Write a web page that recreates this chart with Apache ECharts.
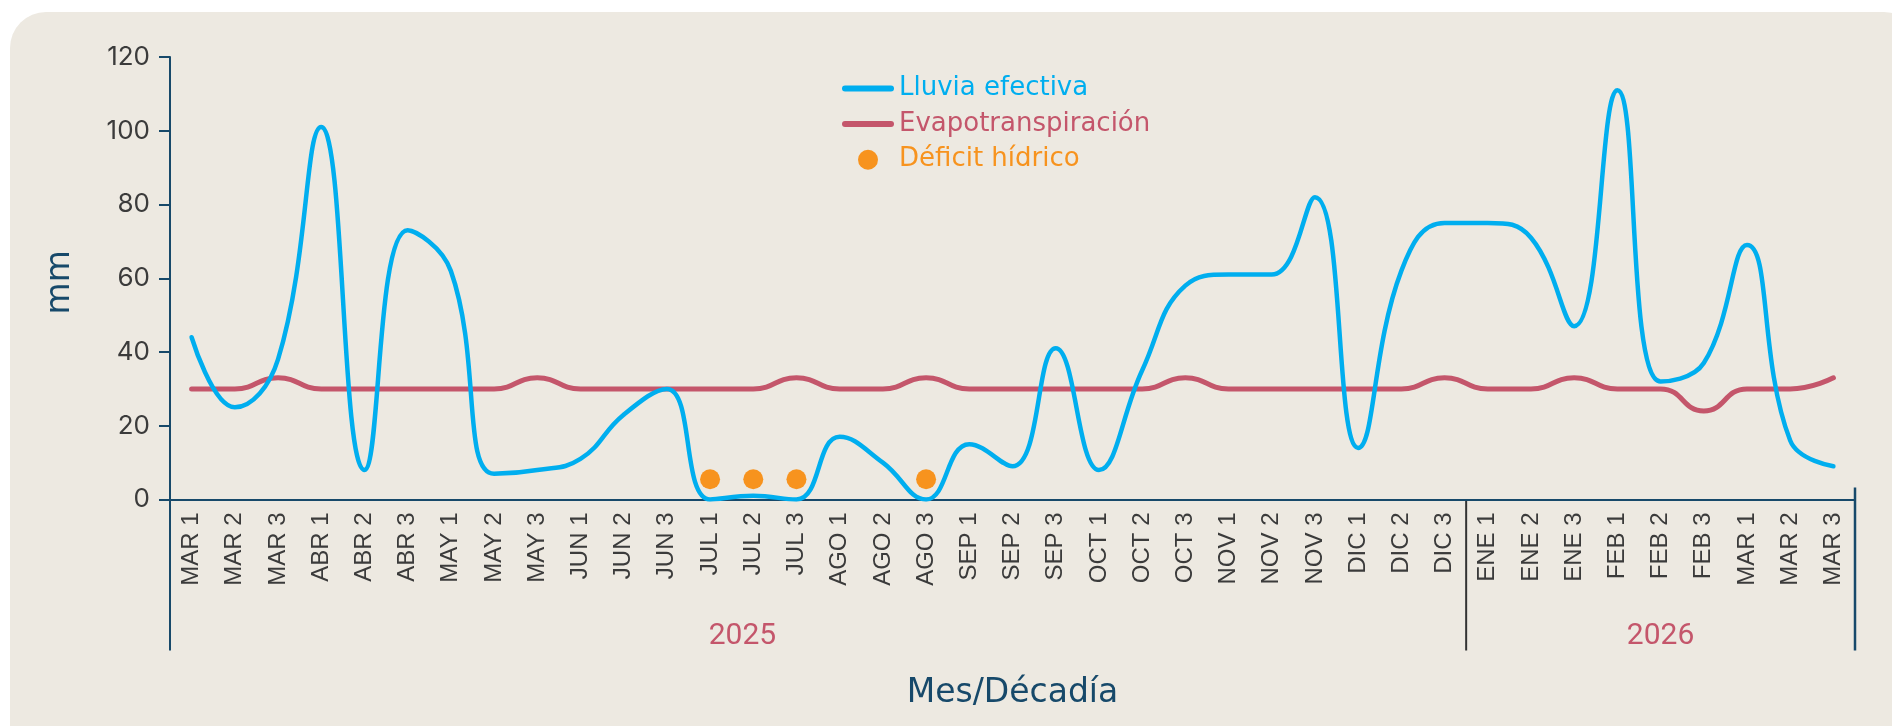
<!DOCTYPE html>
<html><head><meta charset="utf-8">
<script src="https://cdn.jsdelivr.net/npm/echarts@6/dist/echarts.min.js"></script>
<style>
html,body{margin:0;padding:0;background:#ffffff;width:1892px;height:726px;overflow:hidden;}
#panel{position:absolute;left:10px;top:12px;width:1910px;height:760px;background:#ede9e1;border-radius:36px;}
#chart{position:absolute;left:0;top:0;width:1892px;height:726px;}
</style></head>
<body><div id="panel"></div><div id="chart"></div>
<script>
const categories = ['MAR 1','MAR 2','MAR 3','ABR 1','ABR 2','ABR 3','MAY 1','MAY 2','MAY 3','JUN 1','JUN 2','JUN 3',
  'JUL 1','JUL 2','JUL 3','AGO 1','AGO 2','AGO 3','SEP 1','SEP 2','SEP 3','OCT 1','OCT 2','OCT 3',
  'NOV 1','NOV 2','NOV 3','DIC 1','DIC 2','DIC 3','ENE 1','ENE 2','ENE 3','FEB 1','FEB 2','FEB 3',
  'MAR 1','MAR 2','MAR 3'];
const lluviaEfectiva = [44,25,38,101,8,73,62,7,8,11,23,30,0,1,0,17,10,0,15,9,41,8,35,58,61,61,82,14,62,75,75,71,47,111,32,37,69,16,9];
const evapotranspiracion = [30,30,33,30,30,30,30,30,33,30,30,30,30,30,33,30,30,33,30,30,30,30,30,33,30,30,30,30,30,33,30,30,33,30,30,24,30,30,33];
const deficitHidrico = ['-','-','-','-','-','-','-','-','-','-','-','-',5.5,5.5,5.5,'-','-',5.5,'-','-','-','-','-','-','-','-','-','-','-','-','-','-','-','-','-','-','-','-','-'];
const yearGroups = ['2025','2026'];
const yearGroupSizes = [30, 9];
const yTicks = {min:0, max:120, interval:20};

const AXIS = '#17496a';
const BLUE = '#00aeef';
const ROSE = '#c4566b';
const ORANGE = '#f7931e';
const TXT = '#3b3b3b';
const SANS = '"DejaVu Sans", Inter, sans-serif';
const LINE_ICON = 'path://M3,0 L49,0 A3,3 0 0 1 49,6 L3,6 A3,3 0 0 1 3,0 Z';

const chart = echarts.init(document.getElementById('chart'), null, {renderer:'canvas'});
chart.setOption({
  backgroundColor: 'transparent',
  animation: false,
  grid: {left:170, right:37, top:57, bottom:226.5, containLabel:false},
  legend: {
    orient:'vertical', left:837, top:70.5, itemWidth:52, itemHeight:20, itemGap:9.6,
    textStyle:{fontFamily:SANS, fontSize:26, lineHeight:23},
    data:[
      {name:'Lluvia efectiva', icon:LINE_ICON, itemStyle:{color:BLUE}, textStyle:{color:BLUE}},
      {name:'Evapotranspiración', icon:LINE_ICON, itemStyle:{color:ROSE}, textStyle:{color:ROSE}},
      {name:'Déficit hídrico', icon:'circle', textStyle:{color:ORANGE}}
    ]
  },
  xAxis: {
    type:'category', data:categories, boundaryGap:true,
    name:'Mes/Décadía', nameLocation:'middle', nameGap:177,
    nameTextStyle:{color:AXIS, fontFamily:SANS, fontSize:33},
    axisLine:{lineStyle:{color:AXIS, width:2}},
    axisTick:{inside:true, length:12, alignWithLabel:true, lineStyle:{color:AXIS, width:2}},
    axisLabel:{rotate:90, margin:13, color:TXT, fontFamily:'"Liberation Sans", Arial, sans-serif', fontSize:24, interval:0}
  },
  yAxis: {
    type:'value', min:yTicks.min, max:yTicks.max, interval:yTicks.interval,
    name:'mm', nameLocation:'middle', nameGap:93,
    nameTextStyle:{color:AXIS, fontFamily:SANS, fontSize:33, padding:[0,8,0,0]},
    axisLine:{show:true, lineStyle:{color:AXIS, width:2}},
    axisTick:{show:true, length:11, lineStyle:{color:AXIS, width:2}},
    splitLine:{show:false},
    axisLabel:{margin:20, color:TXT, fontFamily:'Inter, sans-serif', fontSize:26}
  },
  series: [
    {name:'Lluvia efectiva', type:'line', data:lluviaEfectiva, smooth:0.45, symbol:'none',
     lineStyle:{color:BLUE, width:4.5, cap:'round', join:'round'}, itemStyle:{color:BLUE}, z:3},
    {name:'Evapotranspiración', type:'line', data:evapotranspiracion, smooth:0.5, symbol:'none',
     lineStyle:{color:ROSE, width:5, cap:'round', join:'round'}, itemStyle:{color:ROSE}, z:2},
    {name:'Déficit hídrico', type:'scatter', data:deficitHidrico, symbol:'circle', symbolSize:20,
     itemStyle:{color:ORANGE, opacity:1}, z:4}
  ]
});

function drawGroups(){
  const y0 = chart.convertToPixel({yAxisIndex:0}, 0);
  const first = chart.convertToPixel({xAxisIndex:0}, 0);
  const second = chart.convertToPixel({xAxisIndex:0}, 1);
  const band = second - first;
  const left = first - band/2;
  const right = chart.convertToPixel({xAxisIndex:0}, categories.length-1) + band/2;
  const bottom = y0 + 151;
  const els = [];
  els.push({type:'line', shape:{x1:left, y1:y0, x2:left, y2:bottom}, style:{stroke:AXIS, lineWidth:2}});
  els.push({type:'line', shape:{x1:right, y1:y0-12, x2:right, y2:bottom}, style:{stroke:AXIS, lineWidth:2.5}});
  let start = 0;
  yearGroups.forEach((yr, i) => {
    const end = start + yearGroupSizes[i] - 1;
    if (i > 0) {
      const xs = chart.convertToPixel({xAxisIndex:0}, start) - band/2;
      els.push({type:'line', shape:{x1:xs, y1:y0, x2:xs, y2:bottom}, style:{stroke:'#333333', lineWidth:2}});
    }
    const pos = i === 0 ? 12.75 : (start + end)/2;
    const cx = first + pos*band;
    els.push({type:'text', x:cx, y:y0+137, style:{text:yr, fill:ROSE, font:'30px Roboto, sans-serif', textAlign:'center', textVerticalAlign:'middle'}});
    start = end + 1;
  });
  chart.setOption({graphic:{elements:els}});
}
drawGroups();
</script></body></html>
